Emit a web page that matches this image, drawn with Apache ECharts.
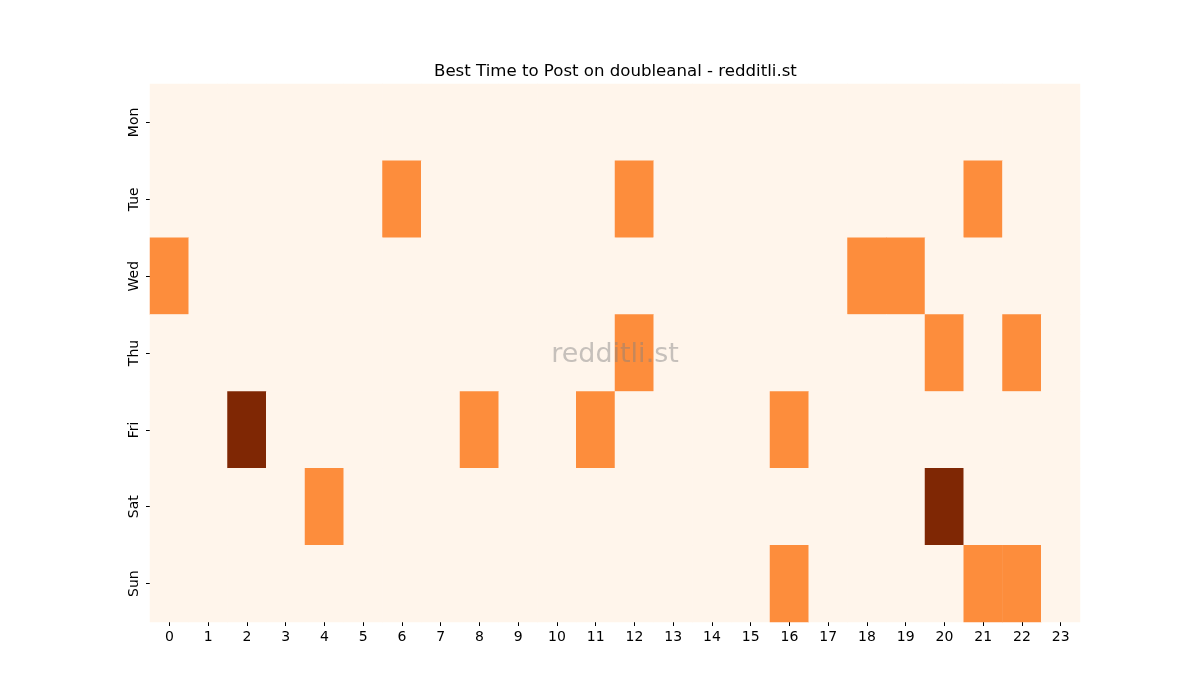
<!DOCTYPE html>
<html>
<head>
<meta charset="utf-8">
<script src="https://cdn.jsdelivr.net/npm/echarts@6/dist/echarts.min.js"></script>
<style>
   html, body { margin: 0; padding: 0; background: #ffffff; }
   #chart { width: 1200px; height: 700px; }
</style>
</head>
<body>
<div id="chart"></div>
<script>

const hours = ['0', '1', '2', '3', '4', '5', '6', '7', '8', '9', '10', '11',
               '12', '13', '14', '15', '16', '17', '18', '19', '20', '21', '22', '23'];
const days = ['Mon', 'Tue', 'Wed', 'Thu', 'Fri', 'Sat', 'Sun'];

// hour values per day (0 = none, 1 = some, 2 = most)
const monValues = [0,0,0,0,0,0,0,0,0,0,0,0,0,0,0,0,0,0,0,0,0,0,0,0];
const tueValues = [0,0,0,0,0,0,1,0,0,0,0,0,1,0,0,0,0,0,0,0,0,1,0,0];
const wedValues = [1,0,0,0,0,0,0,0,0,0,0,0,0,0,0,0,0,0,1,1,0,0,0,0];
const thuValues = [0,0,0,0,0,0,0,0,0,0,0,0,1,0,0,0,0,0,0,0,1,0,1,0];
const friValues = [0,0,2,0,0,0,0,0,1,0,0,1,0,0,0,0,1,0,0,0,0,0,0,0];
const satValues = [0,0,0,0,1,0,0,0,0,0,0,0,0,0,0,0,0,0,0,0,2,0,0,0];
const sunValues = [0,0,0,0,0,0,0,0,0,0,0,0,0,0,0,0,1,0,0,0,0,1,1,0];

const dayValues = [monValues, tueValues, wedValues, thuValues, friValues, satValues, sunValues];

var cells = [];
var i, j;
for (i=0; i<days.length; i++)
   for (j=0; j<hours.length; j++)
      cells.push([j, i, dayValues[i][j]]);

const chart = echarts.init(document.getElementById('chart'));

var option =
{
   animation: false,
   title:
   {
      text: 'Best Time to Post on doubleanal - redditli.st',
      left: 429,
      top: 58,
      textStyle: { fontFamily: 'DejaVu Sans', fontSize: 16.6, fontWeight: 'normal', color: '#000' }
   },
   grid: { left: 150, right: 120, top: 84, bottom: 78 },
   xAxis:
   {
      type: 'category',
      data: hours,
      splitArea: { show: false },
      axisLine: { show: false },
      axisTick: { show: true, length: 4, alignWithLabel: true, lineStyle: { color: '#000' } },
      axisLabel: { fontFamily: 'DejaVu Sans', fontSize: 14, color: '#000', margin: 8, interval: 0 }
   },
   yAxis:
   {
      type: 'category',
      data: days,
      inverse: true,
      axisLine: { show: false },
      axisTick: { show: true, length: 4, alignWithLabel: true, lineStyle: { color: '#000' } },
      axisLabel: { fontFamily: 'DejaVu Sans', fontSize: 14, color: '#000', rotate: 90, margin: 9 }
   },
   visualMap:
   {
      show: false,
      type: 'piecewise',
      pieces:
      [
         { value: 0, color: '#fff5eb' },
         { value: 1, color: '#fd8d3c' },
         { value: 2, color: '#7f2704' }
      ]
   },
   graphic:
   [
      {
         type: 'text',
         x: 615,
         y: 355,
         z: 100,
         style:
         {
            text: 'redditli.st',
            fontFamily: 'DejaVu Sans',
            fontSize: 27,
            fill: 'rgba(128,128,128,0.45)',
            textAlign: 'center',
            textVerticalAlign: 'middle'
         }
      }
   ],
   series:
   [
      {
         type: 'heatmap',
         data: cells,
         itemStyle: { borderWidth: 0 },
         emphasis: { disabled: true }
      }
   ]
};

chart.setOption(option);
</script>
</body>
</html>
